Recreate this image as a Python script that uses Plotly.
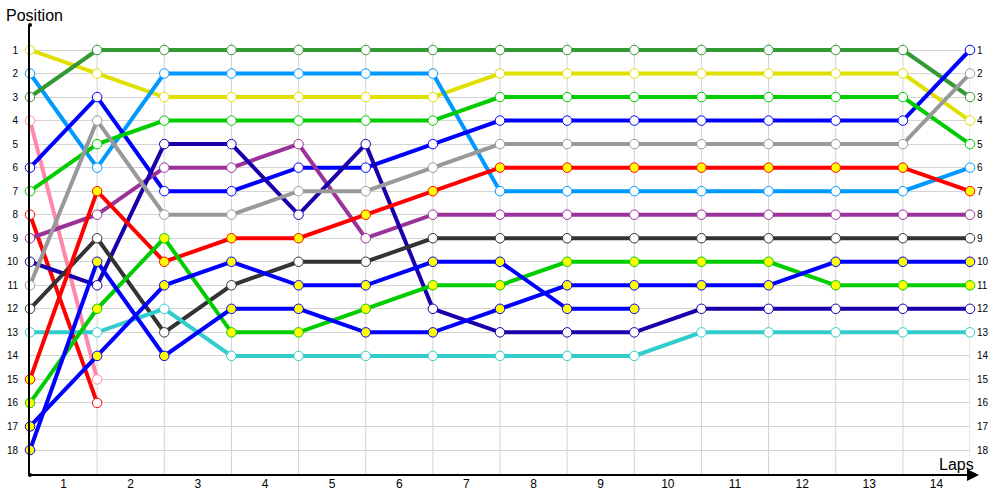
import plotly.graph_objects as go

laps = list(range(0, 15))
lap_labels = [str(i) for i in range(1, 15)]
positions = list(range(1, 19))

# positions per driver, lap 0 .. lap 14 (None = retired)
dark_green = [3, 1, 1, 1, 1, 1, 1, 1, 1, 1, 1, 1, 1, 1, 3]
yellow = [1, 2, 3, 3, 3, 3, 3, 2, 2, 2, 2, 2, 2, 2, 4]
light_blue = [2, 6, 2, 2, 2, 2, 2, 7, 7, 7, 7, 7, 7, 7, 6]
pink = [4, 15] + [None] * 13
blue = [6, 3, 7, 7, 6, 6, 5, 4, 4, 4, 4, 4, 4, 4, 1]
green = [7, 5, 4, 4, 4, 4, 4, 3, 3, 3, 3, 3, 3, 3, 5]
red = [8, 16] + [None] * 13
purple = [9, 8, 6, 6, 5, 9, 8, 8, 8, 8, 8, 8, 8, 8, 8]
navy = [10, 11, 5, 5, 8, 5, 12, 13, 13, 13, 12, 12, 12, 12, 12]
gray = [11, 4, 8, 8, 7, 7, 6, 5, 5, 5, 5, 5, 5, 5, 2]
dark = [12, 9, 13, 11, 10, 10, 9, 9, 9, 9, 9, 9, 9, 9, 9]
cyan = [13, 13, 12, 14, 14, 14, 14, 14, 14, 14, 13, 13, 13, 13, 13]
red_y = [15, 7, 10, 9, 9, 8, 7, 6, 6, 6, 6, 6, 6, 6, 7]
green_y = [16, 12, 9, 13, 13, 12, 11, 11, 10, 10, 10, 10, 11, 11, 11]
blue_ya = [17, 14, 11, 10, 11, 11, 10, 10, 12, 12] + [None] * 5
blue_yb = [18, 10, 14, 12, 12, 13, 13, 12, 11, 11, 11, 11, 10, 10, 10]

series = [
    (yellow, "#E0E000", "white"),
    (light_blue, "#0099FF", "white"),
    (dark_green, "#339933", "white"),
    (pink, "#FF88AA", "white"),
    (blue, "#0000FF", "white"),
    (green, "#00CC00", "white"),
    (red, "#FF0000", "white"),
    (purple, "#993399", "white"),
    (navy, "#1A00AA", "white"),
    (gray, "#999999", "white"),
    (dark, "#333333", "white"),
    (cyan, "#33CCCC", "white"),
    (red_y, "#FF0000", "#FFFF00"),
    (green_y, "#00CC00", "#FFFF00"),
    (blue_ya, "#0000FF", "#FFFF00"),
    (blue_yb, "#0000FF", "#FFFF00"),
]

fig = go.Figure()
for vals, col, fill in series:
    fig.add_trace(go.Scatter(
        x=laps, y=vals, mode="lines+markers",
        line=dict(color=col, width=4),
        marker=dict(symbol="circle", size=9.5, color=fill, line=dict(color=col, width=1)),
        connectgaps=False, showlegend=False, hoverinfo="skip", cliponaxis=False,
    ))

# axis end dots
fig.add_trace(go.Scatter(x=[0, 0], y=[-0.0625, 19.0625], mode="markers",
                         marker=dict(size=4, color="black"), cliponaxis=False,
                         showlegend=False, hoverinfo="skip"))

shapes = []
for i in laps[1:]:
    shapes.append(dict(type="line", xref="x", yref="y", x0=i, x1=i, y0=0.7, y1=19.0625,
                       line=dict(color="#D3D3D3", width=1), layer="below"))
shapes.append(dict(type="line", xref="paper", yref="paper", x0=0, x1=1.0, y0=0, y1=0,
                   line=dict(color="black", width=2)))

annotations = [
    dict(xref="paper", yref="paper", x=(979 - 30) / 940, y=0, ax=-20, ay=0, text="",
         showarrow=True, arrowhead=2, arrowsize=1.2, arrowwidth=2, arrowcolor="black"),
    dict(xref="paper", yref="paper", x=(4 - 30) / 940, y=(475 - 15) / 450, text="Position",
         showarrow=False, xanchor="left", yanchor="middle",
         font=dict(family="Liberation Sans", size=16, color="black")),
    dict(xref="paper", yref="paper", x=(976 - 30) / 940, y=(475 - 464) / 450, text="Laps",
         showarrow=False, xanchor="right", yanchor="middle",
         font=dict(family="Liberation Sans", size=16, color="black")),
]
for p in positions:
    annotations.append(dict(x=14, y=p, xref="x", yref="y", text=str(p), showarrow=False,
                            xanchor="left", yanchor="middle", xshift=5,
                            font=dict(family="Liberation Sans", size=10, color="black")))

fig.update_layout(
    width=1000, height=500, autosize=False,
    margin=dict(l=30, r=30, t=25, b=25),
    plot_bgcolor="white", paper_bgcolor="white",
    shapes=shapes, annotations=annotations,
    xaxis=dict(range=[0, 14], tickvals=[i + 0.5 for i in range(14)], ticktext=lap_labels,
               showgrid=False, zeroline=False, showline=False, ticks="", automargin=False,
               tickfont=dict(family="Liberation Sans", size=12, color="black")),
    yaxis=dict(range=[19.0625, -0.0625], tickvals=positions, ticktext=[str(p) for p in positions],
               showgrid=True, gridcolor="#D3D3D3", gridwidth=1, zeroline=False,
               showline=True, linecolor="black", linewidth=2, automargin=False,
               ticks="outside", ticklen=8, tickcolor="rgba(0,0,0,0)",
               tickfont=dict(family="Liberation Sans", size=10, color="black")),
)

fig.write_html("out.html", config={"displayModeBar": False},
               post_script="document.body.style.margin='0';document.body.style.overflow='hidden';")
